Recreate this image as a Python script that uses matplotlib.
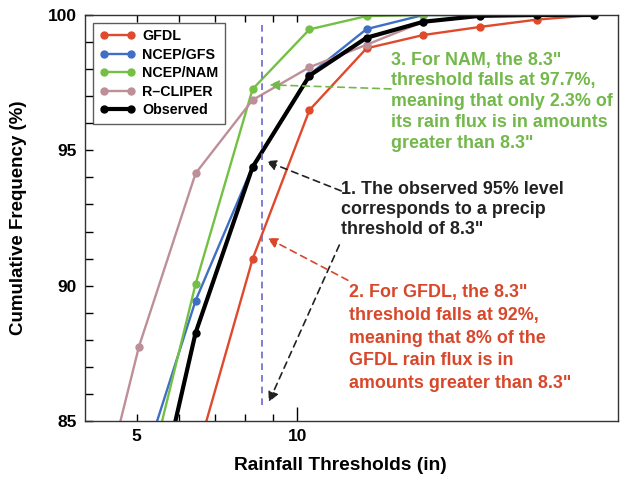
import matplotlib.pyplot as plt
from matplotlib.ticker import FixedLocator, NullFormatter, FixedFormatter

plt.rcParams['font.family'] = ['Liberation Sans', 'DejaVu Sans']
plt.rcParams['font.weight'] = 'bold'

# rainfall thresholds (in)
thresholds = [3.95, 5.05, 6.45, 8.25, 10.55, 13.5, 17.25, 22.05, 28.2, 36.0]

gfdl = [77.5, 79.0, 83.6, 90.98, 96.49, 98.77, 99.26, 99.56, 99.83, 100.0]
gfs = [76.0, 82.9, 89.45, 94.4, 97.8, 99.48, 100.0, 100.0, 100.0, 100.0]
nam = [73.0, 81.5, 90.06, 97.26, 99.47, 99.96, 100.0, 100.0, 100.0, 100.0]
cliper = [79.3, 87.75, 94.15, 96.86, 98.07, 98.9, 99.75, 100.0, 100.0, 100.0]
observed = [70.0, 79.1, 88.26, 94.38, 97.76, 99.16, 99.75, 99.97, 100.0, 100.0]

threshold_line = 8.6

c_red = '#e04a2c'
c_blue = '#3f6fc4'
c_green = '#74c044'
c_mauve = '#bd8f98'
c_text_red = '#d9472a'
c_text_green = '#72b84a'

fig = plt.figure(figsize=(6.26, 4.84), dpi=100)
ax = fig.add_axes([0.1358, 0.1302, 0.8514, 0.8388])

series = [
    ('GFDL', gfdl, c_red, 1.7),
    ('NCEP/GFS', gfs, c_blue, 1.7),
    ('NCEP/NAM', nam, c_green, 1.7),
    ('R\u2013CLIPER', cliper, c_mauve, 1.7),
    ('Observed', observed, 'black', 3.0),
]
for name, vals, col, lw in series:
    ax.plot(thresholds, vals, '-o', color=col, lw=lw, ms=5, label=name)

ax.axvline(threshold_line, ymin=0.04, ymax=0.98, color='#6a6acc', ls=(0, (4, 3)), lw=1.2)

ax.set_xscale('log')
ax.set_xlim(4, 40)
ax.set_ylim(85, 100)

ax.xaxis.set_major_locator(FixedLocator([5, 10]))
ax.xaxis.set_major_formatter(FixedFormatter(['5', '10']))
ax.xaxis.set_minor_locator(FixedLocator([6, 7, 8, 9]))
ax.xaxis.set_minor_formatter(NullFormatter())
ax.set_yticks([85, 90, 95, 100])
ax.set_yticks(range(85, 101), minor=True)

ax.tick_params(axis='both', which='both', direction='in', top=True, right=False,
               labelsize=12.5, width=1, pad=6)
ax.tick_params(axis='y', which='both', length=6)
ax.tick_params(axis='x', which='both', length=5)
ax.xaxis.get_major_ticks()[1].tick1line.set_markersize(10)
for sp in ax.spines.values():
    sp.set_linewidth(1.0)
    sp.set_color('#333333')

ax.set_xlabel('Rainfall Thresholds (in)', fontsize=13.8, fontweight='bold')
ax.xaxis.set_label_coords(0.48, -0.088)
ax.set_ylabel('Cumulative Frequency (%)', fontsize=13.5, fontweight='bold', labelpad=15)

leg = ax.legend(loc='upper left', bbox_to_anchor=(0.015, 0.981), fontsize=10.3,
                handlelength=2.5, handletextpad=0.5, labelspacing=0.32,
                borderpad=0.45, borderaxespad=0, frameon=True, fancybox=False,
                numpoints=2)
leg.get_frame().set_edgecolor('#333333')
leg.get_frame().set_linewidth(1.0)

# annotations
arrow_kw = dict(arrowstyle='-|>', ls=(0, (4, 3)), lw=1.2, mutation_scale=15, shrinkA=0, shrinkB=0)
fs = 12.9

ax.text(0.480, 0.590, '1. The observed 95% level\ncorresponds to a precip\nthreshold of 8.3"',
        transform=ax.transAxes, fontsize=fs, color='#222222', va='top', ha='left',
        linespacing=1.22)
ax.annotate('', xy=(8.75, 94.6), xytext=(12.1, 93.5),
            arrowprops=dict(color='#222222', **arrow_kw))
ax.annotate('', xy=(8.85, 85.7), xytext=(12.0, 91.5),
            arrowprops=dict(color='#222222', **arrow_kw))

ax.text(0.495, 0.337, '2. For GFDL, the 8.3"\nthreshold falls at 92%,\nmeaning that 8% of the\nGFDL rain flux is in\namounts greater than 8.3"',
        transform=ax.transAxes, fontsize=fs, color=c_text_red, va='top', ha='left',
        linespacing=1.44)
ax.annotate('', xy=(8.8, 91.76), xytext=(12.45, 90.2),
            arrowprops=dict(color=c_text_red, **arrow_kw))

ax.text(0.5735, 0.910, '3. For NAM, the 8.3"\nthreshold falls at 97.7%,\nmeaning that only 2.3% of\nits rain flux is in amounts\ngreater than 8.3"',
        transform=ax.transAxes, fontsize=fs, color=c_text_green, va='top', ha='left',
        linespacing=1.3)
ax.annotate('', xy=(8.87, 97.42), xytext=(15.0, 97.27),
            arrowprops=dict(color=c_text_green, **arrow_kw))

fig.savefig('out.png', dpi=100)
